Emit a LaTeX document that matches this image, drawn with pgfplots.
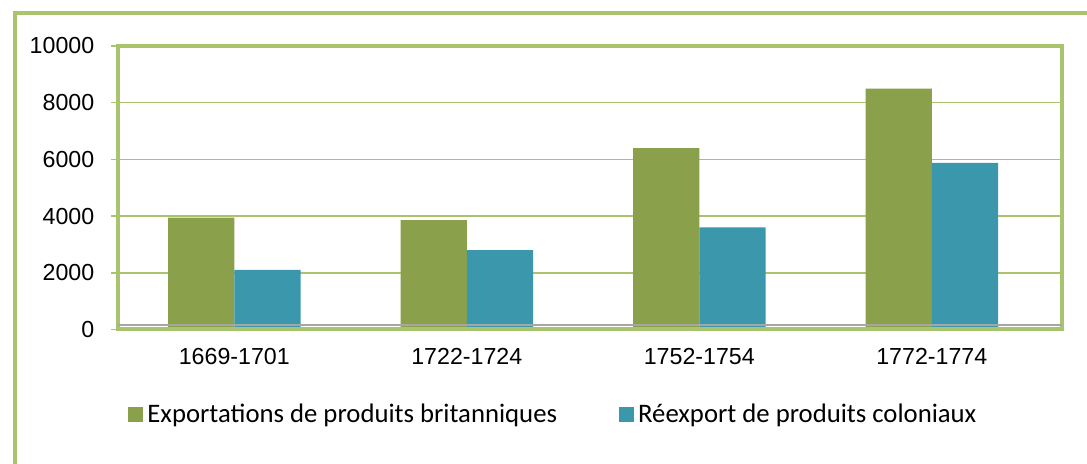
\documentclass[border=0pt]{standalone}
\usepackage{fontspec}
\setmainfont{Liberation Sans}
\newfontfamily\carlito{Carlito}
\usepackage{pgfplots}
\pgfplotsset{compat=1.18}
\definecolor{framegreen}{HTML}{A9C46C}
\definecolor{bargreen}{HTML}{8AA04B}
\definecolor{barteal}{HTML}{3B97AC}
\definecolor{axgray}{HTML}{A6A6A6}
\begin{document}
\begin{tikzpicture}[x=1pt,y=1pt]
\useasboundingbox (0,0) rectangle (543.5,232);
\draw[framegreen, line width=2pt] (7.25,-2) -- (7.25,225.5) -- (546,225.5);
\begin{axis}[
  at={(59.15pt,67.25pt)}, anchor=south west,
  scale only axis, width=471.85pt, height=141.75pt,
  xmin=-0.499, xmax=3.56, ymin=0, ymax=10000,
  ybar=0pt, bar width=0.285,
  axis line style={framegreen, line width=2pt},
  xtick={0,1,2,3},
  xticklabels={1669-1701,1722-1724,1752-1754,1772-1774},
  x tick style={draw=none},
  extra x ticks={0.516,1.516,2.516},
  extra x tick labels={},
  extra x tick style={major tick length=3.5pt, tick align=outside, tick style={draw=axgray, line width=1.2pt}, grid=none},
  ytick={0,2000,4000,6000,8000,10000},
  ytick pos=left,
  y tick style={framegreen, line width=0.8pt},
  tick align=outside,
  major tick length=3.5pt,
  scaled y ticks=false,
  /pgf/number format/assume math mode=true,
  y tick label style={/pgf/number format/1000 sep={}},
  tick label style={font=\fontsize{11.6}{13}\selectfont, text=black},
  yticklabel style={xshift=-5pt},
  xticklabel style={yshift=-2.5pt},
  ymajorgrids,
  grid style={framegreen, line width=0.8pt},
  legend style={at={(rel axis cs:0.0103,-0.3005)}, anchor=west, draw=none, fill=none,
    inner sep=0pt, font=\carlito\fontsize{13.36}{15}\selectfont,
    /tikz/every even column/.append style={column sep=29pt}},
  legend columns=2,
  legend cell align=left,
]
\addplot[fill=bargreen, draw=none, legend image code/.code={\fill[bargreen] (0pt,-3.75pt) rectangle (7.5pt,3.75pt);}]
  coordinates {(0,3950) (1,3860) (2,6400) (3,8500)};
\addplot[fill=barteal, draw=none, legend image code/.code={\fill[barteal] (0pt,-3.75pt) rectangle (7.5pt,3.75pt);}]
  coordinates {(0,2100) (1,2800) (2,3600) (3,5880)};
\legend{Exportations de produits britanniques, Réexport de produits coloniaux}
\draw[framegreen, line width=3pt, yshift=-0.25pt] (rel axis cs:0,0) -- (rel axis cs:1,0);
\draw[axgray, line width=0.8pt, yshift=2.25pt] (rel axis cs:0,0) -- (rel axis cs:1,0);
\end{axis}
\end{tikzpicture}
\end{document}
